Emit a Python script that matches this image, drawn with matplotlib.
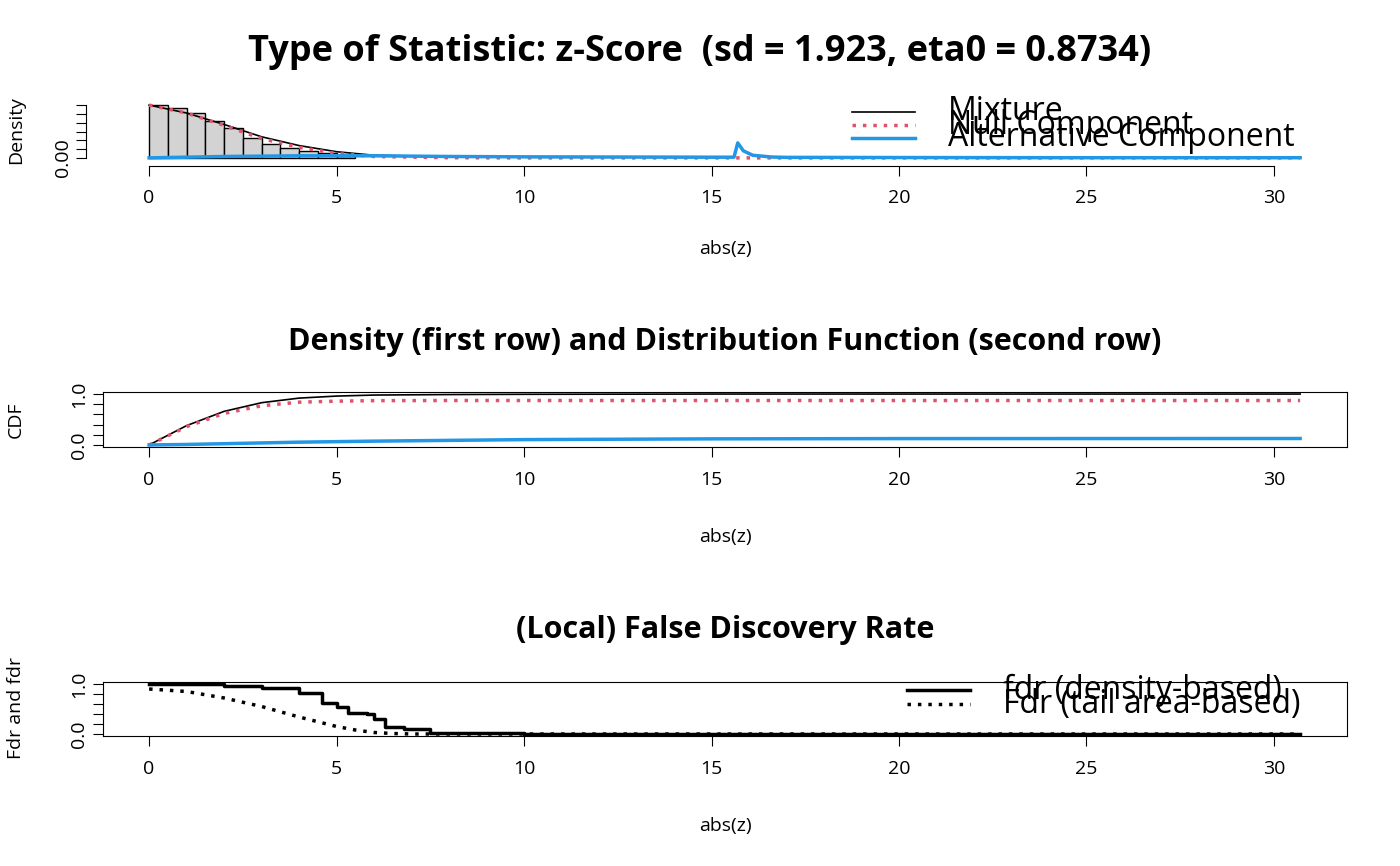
import numpy as np
import matplotlib.pyplot as plt

plt.rcParams['font.family'] = ['Open Sans', 'DejaVu Sans']

# --- histogram of abs(z) (bin width 0.5) ---
bin_left = [0, 0.5, 1, 1.5, 2, 2.5, 3, 3.5, 4, 4.5, 5]
bin_dens = [0.300, 0.284, 0.254, 0.208, 0.168, 0.113, 0.079, 0.056, 0.037, 0.028, 0.012]

# density curves
dx = [0, 1, 2, 3, 4, 5, 6, 8, 10, 15, 15.6, 15.7, 15.85, 16.1, 16.6, 17, 20, 25, 30.7]
d_mix = [0.300, 0.255, 0.190, 0.120, 0.070, 0.035, 0.015, 0.006, 0.004, 0.003, 0.004, 0.085, 0.040, 0.015, 0.005, 0.003, 0.002, 0.001, 0.001]
d_null = [0.300, 0.255, 0.185, 0.110, 0.060, 0.025, 0.008, 0.001, 0, 0, 0, 0, 0, 0, 0, 0, 0, 0, 0]
d_alt = [0.000, 0.004, 0.008, 0.010, 0.012, 0.012, 0.012, 0.008, 0.006, 0.004, 0.004, 0.085, 0.040, 0.015, 0.005, 0.003, 0.002, 0.001, 0.001]

# CDFs
cx = [0, 1, 2, 3, 4, 5, 6, 8, 10, 15, 20, 30.7]
cdf_mix = [0, 0.38, 0.66, 0.83, 0.92, 0.96, 0.98, 0.99, 0.995, 1.0, 1.0, 1.0]
cdf_null = [0, 0.36, 0.62, 0.77, 0.84, 0.86, 0.87, 0.873, 0.873, 0.873, 0.873, 0.873]
cdf_alt = [0, 0.01, 0.025, 0.04, 0.055, 0.065, 0.075, 0.09, 0.105, 0.12, 0.125, 0.127]

# fdr / Fdr
fx = [0, 1, 2, 2.5, 3, 3.5, 4, 4.2, 4.6, 5, 5.3, 5.8, 6.0, 6.3, 6.8, 7.5, 8, 10, 30.7]
fdr = [1.0, 1.0, 0.97, 0.97, 0.93, 0.93, 0.83, 0.83, 0.62, 0.55, 0.42, 0.40, 0.30, 0.15, 0.10, 0.03, 0.02, 0.01, 0.0]
Fx = [0, 1, 2, 3, 4, 5, 5.5, 6, 6.5, 7, 10, 30.7]
Fdr = [0.90, 0.85, 0.72, 0.55, 0.34, 0.15, 0.08, 0.03, 0.01, 0.0, 0.0, 0.0]

W, H = 1400, 866
fig = plt.figure(figsize=(14, 8.66), dpi=100)

def box(t, b):
    return [103 / W, 1 - b / H, (1347 - 103) / W, (b - t) / H]

def ftext(x, y, s, **kw):
    fig.text(x / W, 1 - y / H, s, **kw)

XL = (-1.23, 31.95)
xt = [0, 5, 10, 15, 20, 25, 30]
RED, BLUE = '#df536b', '#2297e6'

# ---- panel 1 ----
ax1 = fig.add_axes(box(103, 160))
ax1.bar(bin_left, bin_dens, width=0.5, align='edge', color='#d3d3d3', edgecolor='black', lw=1)
ax1.plot(dx, d_mix, color='black', lw=1.2)
ax1.plot(dx, d_null, color=RED, lw=2.5, ls=(0, (1, 2)))
ax1.plot(dx, d_alt, color=BLUE, lw=2.5)
ax1.set_xlim(*XL)
ax1.set_ylim(-0.012, 0.312)
for s in ['top', 'right']:
    ax1.spines[s].set_visible(False)
ax1.spines['bottom'].set_bounds(0, 30)
ax1.spines['left'].set_bounds(0, 0.30)
ax1.spines['bottom'].set_position(('outward', 4))
ax1.spines['left'].set_position(('outward', 12))
ax1.set_yticks(np.arange(0, 0.31, 0.05))
ax1.set_yticklabels(['0.00', '', '', '', '', '', ''], rotation=90, va='center')
ftext(W / 2, 52, 'Type of Statistic: z-Score  (sd = 1.923, eta0 = 0.8734)',
      fontsize=26, fontweight='bold', ha='center', va='center')
ftext(16, 130, 'Density', fontsize=14, rotation=90, ha='center', va='center')
ftext(725, 249, 'abs(z)', fontsize=14, ha='center', va='center')
# legend (R style, oversized text)
for y, lab, kw in [(112, 'Mixture', dict(color='black', lw=1.2)),
                   (125, 'Null Component', dict(color=RED, lw=2.5, ls=(0, (1, 2)))),
                   (138, 'Alternative Component', dict(color=BLUE, lw=2.5))]:
    fig.add_artist(plt.Line2D([852 / W, 915 / W], [1 - y / H] * 2, **kw))
    ftext(948, y, lab, fontsize=23, va='center')

# ---- panel 2 ----
ax2 = fig.add_axes(box(392, 447))
ax2.plot(cx, cdf_mix, color='black', lw=1.2)
ax2.plot(cx, cdf_null, color=RED, lw=2.5, ls=(0, (1, 2)))
ax2.plot(cx, cdf_alt, color=BLUE, lw=2.5)
ax2.set_ylim(-0.04, 1.04)
ftext(W / 2 + 25, 342, 'Density (first row) and Distribution Function (second row)',
      fontsize=22, fontweight='bold', ha='center', va='center')
ftext(16, 420, 'CDF', fontsize=14, rotation=90, ha='center', va='center')
ftext(725, 537, 'abs(z)', fontsize=14, ha='center', va='center')

# ---- panel 3 ----
ax3 = fig.add_axes(box(682, 736))
ax3.step(fx, fdr, where='post', color='black', lw=2.5)
ax3.plot(Fx, Fdr, color='black', lw=2.5, ls=(0, (1, 2)))
ax3.set_ylim(-0.04, 1.04)
ftext(W / 2 + 25, 630, '(Local) False Discovery Rate',
      fontsize=22, fontweight='bold', ha='center', va='center')
ftext(16, 708, 'Fdr and fdr', fontsize=14, rotation=90, ha='center', va='center')
ftext(725, 826, 'abs(z)', fontsize=14, ha='center', va='center')
for y, lab, ls in [(690, 'fdr (density-based)', '-'), (704, 'Fdr (tail area-based)', (0, (1, 2)))]:
    fig.add_artist(plt.Line2D([907 / W, 970 / W], [1 - y / H] * 2, color='black', lw=2.5, ls=ls))
    ftext(1003, y, lab, fontsize=23, va='center')

for a in (ax2, ax3):
    a.set_yticks(np.arange(0, 1.01, 0.2))
    a.set_yticklabels(['0.0', '', '', '', '', '1.0'], rotation=90, va='center')

for a in (ax1, ax2, ax3):
    a.set_xlim(*XL)
    a.set_xticks(xt)
    a.tick_params(labelsize=14, length=7)
    a.tick_params(axis='x', pad=10)

fig.savefig('out.png', dpi=100)
